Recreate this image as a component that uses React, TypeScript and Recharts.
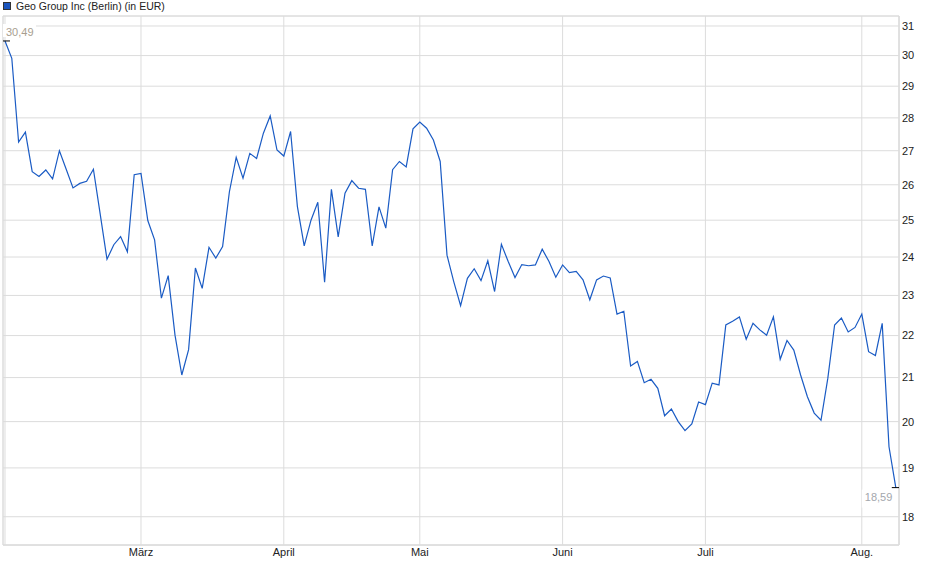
import { CartesianGrid, Line, LineChart, ReferenceArea, XAxis, YAxis } from "recharts";

// Closing prices (EUR), one value per trading day, grouped by month
const febValues = [
  30.49, 29.91, 27.26, 27.56, 26.38, 26.24, 26.43, 26.17, 27.0, 26.45,
  25.91, 26.04, 26.1, 26.45, 25.17, 23.94, 24.33, 24.55, 24.14, 26.29,
];
const marValues = [
  26.33, 24.99, 24.46, 22.93, 23.51, 22.01, 21.06, 21.66, 23.71, 23.18,
  24.26, 23.97, 24.28, 25.8, 26.8, 26.19, 26.92, 26.77, 27.53, 28.06, 27.02,
];
const aprValues = [
  26.84, 27.58, 25.38, 24.3, 25.0, 25.5, 23.34, 25.87, 24.54, 25.76,
  26.12, 25.9, 25.87, 24.3, 25.37, 24.78, 26.44, 26.68, 26.52, 27.66,
];
const mayValues = [
  27.87, 27.68, 27.32, 26.68, 24.05, 23.35, 22.74, 23.44, 23.69, 23.38,
  23.9, 23.1, 24.34, 23.88, 23.46, 23.8, 23.77, 23.79, 24.21, 23.88, 23.47,
];
const junValues = [
  23.79, 23.59, 23.62, 23.4, 22.89, 23.4, 23.5, 23.45, 22.53, 22.6,
  21.27, 21.38, 20.88, 20.96, 20.75, 20.13, 20.28, 20.0, 19.8, 19.95, 20.44,
];
const julValues = [
  20.38, 20.87, 20.83, 22.26, 22.35, 22.46, 21.91, 22.3, 22.14, 22.01,
  22.46, 21.43, 21.88, 21.65, 21.06, 20.56, 20.19, 20.03, 20.98, 22.26,
  22.43, 22.09, 22.2,
];
const augValues = [22.53, 21.61, 21.52, 22.3, 19.45, 18.59];

const monthLabels = ["", "März", "April", "Mai", "Juni", "Juli", "Aug."];
const yTicks = [18, 19, 20, 21, 22, 23, 24, 25, 26, 27, 28, 29, 30, 31];

const months = [febValues, marValues, aprValues, mayValues, junValues, julValues, augValues];

const monthStarts: number[] = [];
let running = 0;
for (const m of months) {
  monthStarts.push(running);
  running += m.length;
}

const chartData = months.flat().map((close, i) => ({ i, close }));

const LINE_COLOR = "#1a5bc4";
const GRID_COLOR = "#dcdcdc";
const FONT = '"Liberation Sans", Arial, sans-serif';
const X_DOMAIN: [number, number] = [-0.294, 131.47];
const Y_DOMAIN: [number, number] = [17.445, 31.345];

function formatPrice(v: number): string {
  return v.toFixed(2).replace(".", ",");
}

function EndDot(props: any) {
  const { cx, cy, index, value } = props;
  if (index === 0) {
    return (
      <g key="start">
        <rect x={cx - 2} y={cy - 17} width={33} height={13} fill="#fff" />
        <text x={cx + 1} y={cy - 8.5} dy="0.35em" fontSize={11} fontFamily={FONT} fill="#a89e8f">
          {formatPrice(value)}
        </text>
        <line x1={cx - 4} x2={cx + 5} y1={cy} y2={cy} stroke="#000" strokeWidth={1} />
      </g>
    );
  }
  if (index === chartData.length - 1) {
    return (
      <g key="end">
        <rect x={cx - 34} y={cy + 2} width={34} height={18} fill="#fff" />
        <text x={cx - 3.5} y={cy + 10} dy="0.35em" textAnchor="end" fontSize={11} fontFamily={FONT} fill="#a3a7ad">
          {formatPrice(value)}
        </text>
        <line x1={cx - 4} x2={cx + 4} y1={cy} y2={cy} stroke="#000" strokeWidth={1} />
      </g>
    );
  }
  return <g key={`d${index}`} />;
}

export default function App() {
  return (
    <div
      style={{
        position: "absolute",
        left: 0,
        top: 0,
        width: 940,
        height: 579,
        background: "#fff",
        fontFamily: FONT,
      }}
    >
      <div style={{ position: "absolute", left: 3, top: 0, display: "flex", alignItems: "center", height: 12 }}>
        <span
          style={{
            display: "inline-block",
            width: 6,
            height: 6,
            background: "#1b55bd",
            border: "1px solid #333",
            marginRight: 5,
          }}
        />
        <span style={{ fontSize: 10.5, color: "#222", lineHeight: "12px" }}>Geo Group Inc (Berlin) (in EUR)</span>
      </div>
      <LineChart width={940} height={579} data={chartData} margin={{ top: 16, right: 0, bottom: 0, left: 3 }}>
        <CartesianGrid stroke={GRID_COLOR} />
        <ReferenceArea
          x1={X_DOMAIN[0]}
          x2={X_DOMAIN[1]}
          y1={Y_DOMAIN[0]}
          y2={Y_DOMAIN[1]}
          fill="none"
          stroke={GRID_COLOR}
          fillOpacity={0}
        />
        <XAxis
          dataKey="i"
          type="number"
          domain={X_DOMAIN}
          allowDataOverflow
          ticks={monthStarts}
          interval={0}
          tickFormatter={(v) => monthLabels[monthStarts.indexOf(v)] ?? ""}
          axisLine={{ stroke: GRID_COLOR }}
          tickLine={false}
          tickSize={0}
          tickMargin={3}
          height={34}
          tick={{ fill: "#222", fontSize: 11, fontFamily: FONT }}
        />
        <YAxis
          orientation="right"
          type="number"
          scale="log"
          domain={Y_DOMAIN}
          allowDataOverflow
          ticks={yTicks}
          interval={0}
          axisLine={{ stroke: GRID_COLOR }}
          tickLine={false}
          tickSize={0}
          tickMargin={3}
          width={41}
          tick={{ fill: "#222", fontSize: 11, fontFamily: FONT }}
        />
        <Line
          type="linear"
          dataKey="close"
          stroke={LINE_COLOR}
          strokeWidth={1.2}
          dot={EndDot}
          activeDot={false}
          isAnimationActive={false}
        />
      </LineChart>
    </div>
  );
}
